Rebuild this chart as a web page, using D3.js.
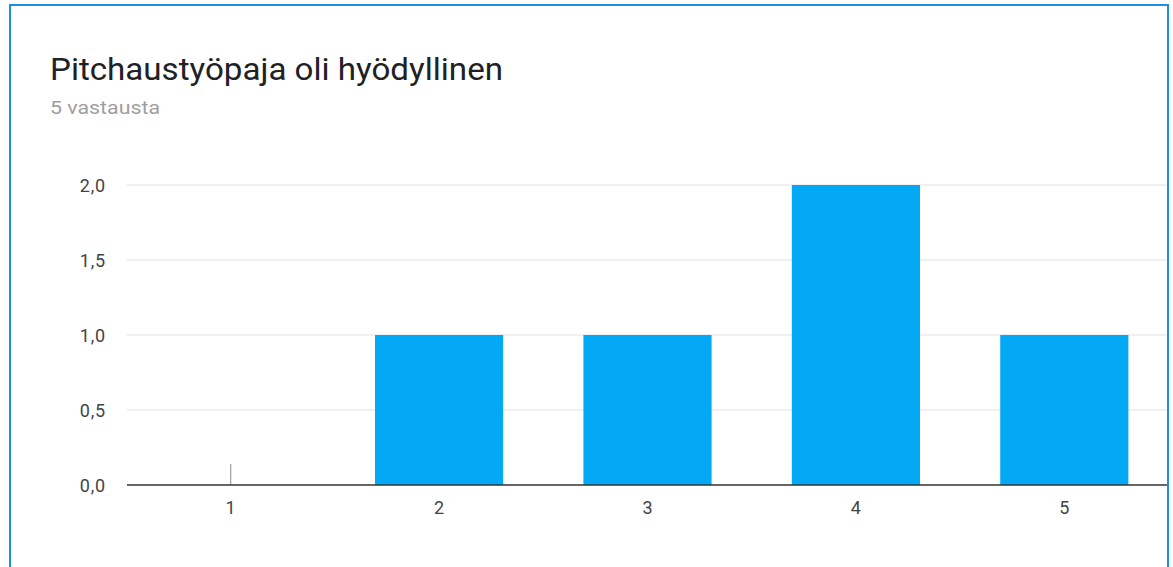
<!DOCTYPE html>
<html><head><meta charset="utf-8">
<script src="https://cdn.jsdelivr.net/npm/d3@7"></script>
<style>html,body{margin:0;padding:0;background:#fff;}svg{display:block;}</style>
</head><body>
<svg id="c" width="1173" height="567"></svg>
<script>
const title = "Pitchaustyöpaja oli hyödyllinen";
const subtitle = "5 vastausta";
const categories = ["1", "2", "3", "4", "5"];
const values = [0, 1, 1, 2, 1];
const yTicks = [0, 0.5, 1, 1.5, 2];

const svg = d3.select("#c");
const m = {left: 127, right: 1168};

// card border
svg.append("rect").attr("x", 10).attr("y", 5).attr("width", 1158).attr("height", 600)
  .attr("fill", "#fff").attr("stroke", "#1e8fe0").attr("stroke-width", 2);

svg.append("text").attr("x", 50).attr("y", 79.5).text(title)
  .attr("font-family", "Roboto").attr("font-size", 31).attr("fill", "#202124")
  .attr("textLength", 453).attr("lengthAdjust", "spacingAndGlyphs");
svg.append("text").attr("x", 50).attr("y", 113.5).text(subtitle)
  .attr("font-family", "Roboto").attr("font-size", 18.5).attr("fill", "#9e9e9e")
  .attr("textLength", 110).attr("lengthAdjust", "spacingAndGlyphs");

const x = d3.scaleBand().domain(categories).range([m.left, m.right]).paddingInner(0.385).paddingOuter(0.19);
const y = d3.scaleLinear().domain([0, 2]).range([485, 185]);

const g = svg.append("g");
// gridlines
g.selectAll("line.grid").data(yTicks.filter(d => d > 0)).join("line")
  .attr("x1", m.left).attr("x2", 1167).attr("y1", d => y(d)).attr("y2", d => y(d))
  .attr("stroke", "#ebebeb").attr("stroke-width", 1.5);

// bars
g.selectAll("rect.bar").data(values).join("rect")
  .attr("x", (d, i) => x(categories[i])).attr("width", x.bandwidth())
  .attr("y", d => y(d)).attr("height", d => y(0) - y(d))
  .attr("fill", "#03a9f4");

// zero marker
g.selectAll("line.zero").data(values.map((v, i) => ({v, c: categories[i]})).filter(d => d.v === 0)).join("line")
  .attr("x1", d => x(d.c) + x.bandwidth() / 2).attr("x2", d => x(d.c) + x.bandwidth() / 2)
  .attr("y1", y(0)).attr("y2", y(0) - 21).attr("stroke", "#9e9e9e").attr("stroke-width", 1.2);

// y axis labels
const yAxis = d3.axisLeft(y).tickValues(yTicks).tickSize(0).tickPadding(0)
  .tickFormat(d => d3.format(".1f")(d).replace(".", ","));
const ya = svg.append("g").attr("transform", `translate(106,0)`).call(yAxis);
ya.select(".domain").remove();
ya.selectAll("text").attr("font-family", "Roboto").attr("font-size", 18).attr("fill", "#444")
  .attr("letter-spacing", 0.8).attr("dy", "0.35em");

// x axis
const xAxis = d3.axisBottom(x).tickSize(0).tickPadding(16);
const xa = svg.append("g").attr("transform", `translate(0,${y(0)})`).call(xAxis);
xa.select(".domain").remove();
xa.selectAll("text").attr("font-family", "Roboto").attr("font-size", 18).attr("fill", "#444");

svg.append("line").attr("x1", m.left).attr("x2", 1167).attr("y1", y(0)).attr("y2", y(0))
  .attr("stroke", "#333").attr("stroke-width", 1.5);
</script>
</body></html>
